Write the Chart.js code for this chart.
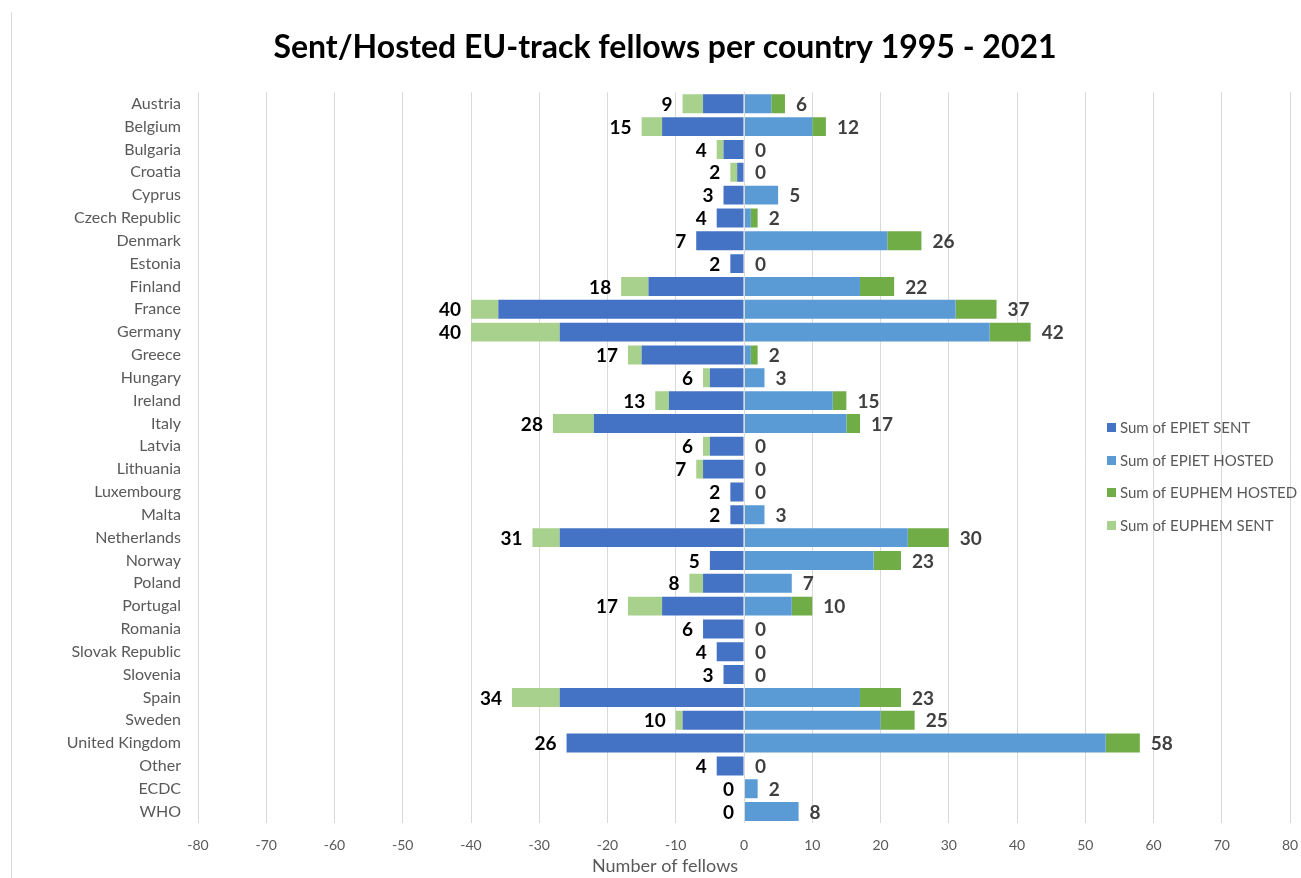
<!DOCTYPE html>
<html>
<head>
<meta charset="utf-8">
<script src="https://cdn.jsdelivr.net/npm/chart.js@4.4.1/dist/chart.umd.min.js"></script>
<style>
  html, body { margin: 0; padding: 0; background: #ffffff; }
  #wrap { width: 1301px; height: 878px; position: relative; }
</style>
</head>
<body>
<div id="wrap"><canvas id="c" width="1301" height="878"></canvas></div>
<script>
const categories = ['Austria', 'Belgium', 'Bulgaria', 'Croatia', 'Cyprus', 'Czech Republic', 'Denmark',
  'Estonia', 'Finland', 'France', 'Germany', 'Greece', 'Hungary', 'Ireland', 'Italy', 'Latvia',
  'Lithuania', 'Luxembourg', 'Malta', 'Netherlands', 'Norway', 'Poland', 'Portugal', 'Romania',
  'Slovak Republic', 'Slovenia', 'Spain', 'Sweden', 'United Kingdom', 'Other', 'ECDC', 'WHO'];

// Fellows sent abroad (drawn to the left of zero)
const epietSent  = [-6, -12, -3, -1, -3, -4, -7, -2, -14, -36, -27, -15, -5, -11, -22, -5,
  -6, -2, -2, -27, -5, -6, -12, -6, -4, -3, -27, -9, -26, -4, 0, 0];
const euphemSent = [-3, -3, -1, -1, 0, 0, 0, 0, -4, -4, -13, -2, -1, -2, -6, -1,
  -1, 0, 0, -4, 0, -2, -5, 0, 0, 0, -7, -1, 0, 0, 0, 0];

// Fellows hosted (drawn to the right of zero)
const epietHosted  = [4, 10, 0, 0, 5, 1, 21, 0, 17, 31, 36, 1, 3, 13, 15, 0,
  0, 0, 3, 24, 19, 7, 7, 0, 0, 0, 17, 20, 53, 0, 2, 8];
const euphemHosted = [2, 2, 0, 0, 0, 1, 5, 0, 5, 6, 6, 1, 0, 2, 2, 0,
  0, 0, 0, 6, 4, 0, 3, 0, 0, 0, 6, 5, 5, 0, 0, 0];

const xTicks = [-80, -70, -60, -50, -40, -30, -20, -10, 0, 10, 20, 30, 40, 50, 60, 70, 80];
const xAxisTitle = 'Number of fellows';

const FONT = 'Lato, "Open Sans", sans-serif';
const GREY_TEXT = '#595959';
const GRID = '#d9d9d9';

// Frame line, zero line, totals, axis title and legend
const decorations = {
  id: 'decorations',
  beforeDraw(chart) {
    const ctx = chart.ctx;
    ctx.save();
    ctx.fillStyle = '#ffffff';
    ctx.fillRect(0, 0, chart.width, chart.height);
    ctx.strokeStyle = GRID;
    ctx.lineWidth = 1;
    ctx.beginPath();
    ctx.moveTo(11.5, 12);
    ctx.lineTo(11.5, chart.height);
    ctx.stroke();
    ctx.restore();
  },
  afterDatasetsDraw(chart) {
    const ctx = chart.ctx;
    const xs = chart.scales.x, ys = chart.scales.y;
    const area = chart.chartArea;
    ctx.save();
    // zero axis line over the bars
    const x0 = Math.round(xs.getPixelForValue(0)) + 0.5;
    ctx.strokeStyle = GRID;
    ctx.lineWidth = 1;
    ctx.beginPath();
    ctx.moveTo(x0, area.top);
    ctx.lineTo(x0, area.bottom);
    ctx.stroke();

    // totals at the end of each side
    ctx.font = 'bold 19px ' + FONT;
    ctx.textBaseline = 'middle';
    categories.forEach((name, i) => {
      const y = ys.getPixelForValue(i) + 1;
      const sent = epietSent[i] + euphemSent[i];
      const hosted = epietHosted[i] + euphemHosted[i];
      ctx.fillStyle = '#000000';
      ctx.textAlign = 'right';
      ctx.fillText(String(Math.abs(sent)), xs.getPixelForValue(sent) - 10, y);
      ctx.fillStyle = '#404040';
      ctx.textAlign = 'left';
      ctx.fillText(String(hosted), xs.getPixelForValue(hosted) + 11, y);
    });

    // horizontal axis title
    ctx.font = '18px ' + FONT;
    ctx.fillStyle = GREY_TEXT;
    ctx.textAlign = 'center';
    ctx.fillText(xAxisTitle, 665, 866);

    // legend inside the plot area
    const legendX = 1107, legendY = [427, 460, 492, 525];
    ctx.font = '15px ' + FONT;
    ctx.textAlign = 'left';
    chart.data.datasets.forEach((ds, k) => {
      const ly = legendY[k];
      ctx.fillStyle = ds.backgroundColor;
      ctx.fillRect(legendX, ly - 4, 9, 9);
      ctx.fillStyle = GREY_TEXT;
      ctx.fillText(ds.label, legendX + 13, ly + 1);
    });
    ctx.restore();
  }
};

new Chart(document.getElementById('c'), {
  type: 'bar',
  data: {
    labels: categories,
    datasets: [
      { label: 'Sum of EPIET SENT', data: epietSent, backgroundColor: '#4472C4' },
      { label: 'Sum of EPIET HOSTED', data: epietHosted, backgroundColor: '#5B9BD5' },
      { label: 'Sum of EUPHEM HOSTED', data: euphemHosted, backgroundColor: '#70AD47' },
      { label: 'Sum of EUPHEM SENT', data: euphemSent, backgroundColor: '#A9D18E' }
    ]
  },
  options: {
    indexAxis: 'y',
    responsive: false,
    animation: false,
    devicePixelRatio: 1,
    datasets: { bar: { categoryPercentage: 1, barPercentage: 0.83, borderWidth: 0 } },
    layout: { padding: { left: 40, right: 11, top: 0, bottom: 0 } },
    plugins: {
      legend: { display: false },
      tooltip: { enabled: false },
      title: {
        display: true,
        text: 'Sent/Hosted EU-track fellows per country 1995 - 2021',
        color: '#000000',
        font: { family: FONT, size: 32, weight: 'bold' },
        padding: { top: 28, bottom: 26 }
      }
    },
    scales: {
      x: {
        stacked: true,
        min: -80,
        max: 80,
        afterBuildTicks(scale) { scale.ticks = xTicks.map(v => ({ value: v })); },
        afterFit(scale) {
          scale.height = 55;
          scale.paddingLeft = 0;
          scale.paddingRight = 0;
        },
        grid: { color: GRID, lineWidth: 1, drawTicks: false },
        border: { display: false },
        ticks: {
          color: GREY_TEXT,
          font: { family: FONT, size: 14 },
          padding: 14,
          maxRotation: 0
        },
        title: { display: false }
      },
      y: {
        stacked: true,
        afterFit(scale) { scale.width = 158; },
        grid: { display: false, drawTicks: false },
        border: { display: false },
        ticks: {
          color: GREY_TEXT,
          font: { family: FONT, size: 16 },
          padding: 17,
          autoSkip: false
        }
      }
    }
  },
  plugins: [decorations]
});
</script>
</body>
</html>
